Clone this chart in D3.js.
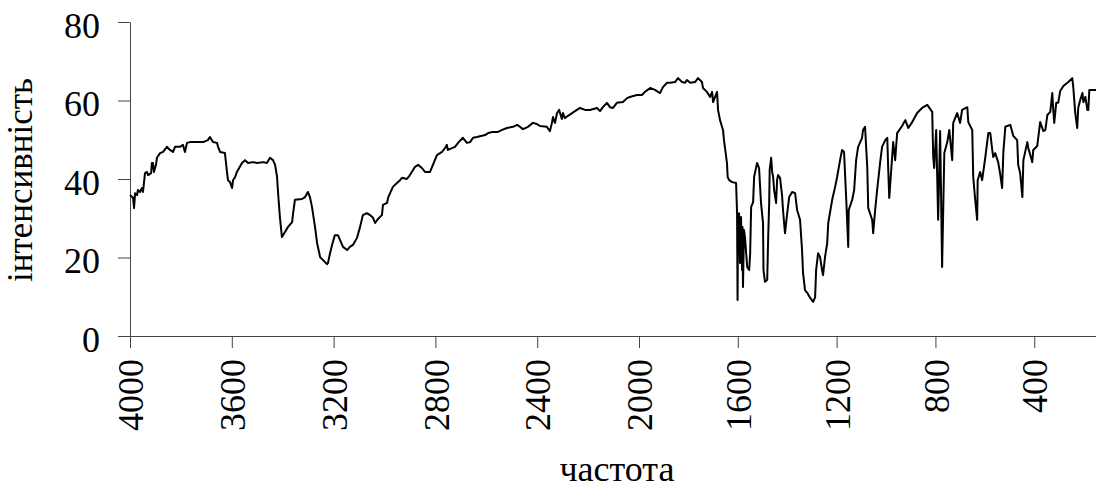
<!DOCTYPE html>
<html>
<head>
<meta charset="utf-8">
<script src="https://cdn.jsdelivr.net/npm/d3@7"></script>
<style>
  body { margin: 0; background: #fff; }
  svg { display: block; }
  text { font-family: "Liberation Serif", "Times New Roman", serif; fill: #000; }
</style>
</head>
<body>
<div id="chart"></div>
<script>
// wavenumber, cm-1
const wavenumber = [
  4000, 3988, 3984, 3980, 3972, 3969, 3961, 3953, 3949, 3941, 3933, 3929, 3917, 3914, 3910, 3906,
  3898, 3894, 3882, 3870, 3855, 3843, 3831, 3823, 3804, 3792, 3784, 3776, 3764, 3737, 3713, 3694,
  3686, 3674, 3658, 3654, 3646, 3627, 3619, 3615, 3607, 3599, 3595, 3587, 3580, 3560, 3548, 3536,
  3517, 3501, 3477, 3462, 3450, 3438, 3430, 3422, 3419, 3411, 3403, 3391, 3379, 3363, 3360, 3352,
  3324, 3312, 3301, 3293, 3285, 3273, 3265, 3253, 3226, 3222, 3214, 3206, 3195, 3183, 3175, 3163,
  3147, 3136, 3124, 3108, 3096, 3085, 3069, 3057, 3045, 3037, 3026, 3010,
  3006, 2990, 2986, 2978, 2967, 2959, 2939, 2931, 2912, 2900, 2880, 2868, 2853, 2841, 2821, 2813,
  2802, 2794, 2774, 2762, 2755, 2751, 2723, 2711, 2692, 2676, 2664, 2652, 2637, 2617, 2605, 2593,
  2574, 2554, 2538, 2519, 2495, 2479, 2468, 2456, 2436, 2417, 2401, 2389, 2362, 2350, 2342, 2338,
  2330, 2322, 2314, 2303, 2299, 2291, 2279, 2263, 2244, 2232, 2212, 2193, 2165, 2153, 2142, 2126,
  2114, 2102, 2087, 2063, 2047, 2036, 2008, 1988, 1976, 1955, 1935, 1923, 1915, 1903, 1887, 1874,
  1854, 1842, 1826, 1814, 1806, 1793, 1773, 1761, 1745, 1741, 1725, 1712, 1704, 1700, 1692, 1684,
  1680, 1672,
  1664, 1660, 1656, 1648, 1644, 1641, 1635, 1623, 1607, 1603, 1601, 1599, 1595, 1591, 1587, 1583,
  1581, 1579, 1575, 1571, 1562, 1554, 1550, 1546, 1538, 1534, 1522, 1514, 1506, 1498, 1496, 1490,
  1481, 1477, 1473, 1471, 1465, 1461, 1457, 1453, 1445, 1441, 1437, 1429, 1421, 1417, 1409, 1400,
  1392, 1380, 1368, 1360, 1348,
  1340, 1336, 1328, 1319, 1307, 1295, 1287, 1283, 1275, 1267, 1259, 1255, 1247, 1238, 1234, 1218,
  1206, 1198, 1186, 1178, 1170, 1161, 1153, 1151, 1137, 1129, 1121, 1113, 1097, 1093, 1085, 1076,
  1072, 1056, 1052, 1044, 1036, 1024, 1016, 1003, 995, 991, 987, 979, 971, 963, 955,
  935, 922, 910, 894, 874, 854, 833, 813, 809, 805, 797, 789, 781, 773, 764, 752,
  744, 732, 728, 712, 700, 692, 671, 667, 651, 647, 639, 631, 629, 619, 611, 598,
  586, 578, 570, 566, 558, 546, 538, 530, 525, 517, 497, 485, 469, 465, 457, 448,
  444, 428, 424, 408, 404, 388, 376, 363, 355, 347, 335, 327, 323, 319, 311, 303,
  295, 282, 262, 246, 242, 234, 226, 222, 214, 205, 201, 193, 185, 181, 177, 150
];

// intensity, %
const intensity = [
  35.9, 35.2, 32.6, 36.4, 35.9, 37.2, 36.7, 37.7, 36.7, 41.5, 41.8, 41.0, 41.5, 44.1, 44.1, 41.8,
  43.6, 45.4, 46.6, 46.9, 48.2, 47.4, 46.9, 48.2, 48.2, 48.7, 46.9, 49.2, 49.4, 49.4, 49.4, 49.9,
  50.7, 49.4, 49.2, 48.2, 46.9, 46.6, 41.8, 39.7, 39.2, 37.7, 39.7, 40.5, 41.8, 44.1, 44.8, 44.1,
  44.3, 44.1, 44.3, 44.1, 45.4, 44.8, 43.6, 40.5, 37.2, 30.3, 25.2, 26.5, 27.8, 29.0, 30.8, 34.7,
  34.9, 35.4, 36.7, 35.4, 32.9, 27.8, 23.7, 20.1, 18.3, 18.6, 21.1, 23.2, 25.7, 25.7, 24.5, 22.7,
  21.9, 22.7, 23.2, 25.0, 27.8, 30.8, 31.3, 30.8, 30.1, 28.8, 29.8, 30.8,
  33.4, 33.9, 35.2, 36.4, 38.0, 38.5, 39.7, 40.3, 40.0, 41.0, 43.1, 43.6, 42.8, 41.8, 41.8, 43.1,
  44.8, 46.1, 46.9, 47.9, 48.7, 47.4, 48.2, 49.2, 50.5, 49.2, 49.4, 50.5, 50.7, 51.0, 51.2, 51.7,
  52.0, 52.0, 52.5, 53.0, 53.3, 53.8, 53.3, 52.7, 53.3, 54.3, 54.0, 53.5, 53.3, 52.2, 54.3, 55.8,
  54.3, 56.8, 57.6, 55.3, 56.8, 55.5, 56.1, 56.8, 57.6, 58.1, 57.6, 57.6, 58.1, 57.3, 58.3, 59.4,
  58.3, 58.1, 59.4, 59.6, 60.6, 60.9, 61.4, 61.4, 62.2, 63.2, 62.7, 62.2, 61.9, 63.4, 64.5, 64.5,
  64.7, 65.7, 64.7, 64.5, 65.2, 64.5, 64.7, 65.7, 64.7, 63.2, 62.2, 60.9, 62.2, 59.6, 60.9, 62.2,
  57.6, 55.0,
  53.3, 52.5, 49.9, 46.1, 44.1, 40.5, 39.7, 39.2, 39.0, 31.3, 9.2, 30.3, 31.3, 18.6, 30.3, 16.8,
  27.8, 12.5, 27.0, 25.2, 17.6, 16.8, 21.1, 32.9, 34.1, 40.5, 44.1, 42.8, 33.9, 28.8, 16.8, 13.8,
  14.3, 25.2, 33.9, 42.3, 45.4, 41.8, 40.5, 37.2, 33.9, 39.7, 41.0, 40.3, 35.9, 32.1, 26.2, 31.3,
  35.4, 36.7, 36.4, 32.1, 29.6,
  21.9, 16.1, 11.7, 11.0, 9.7, 8.7, 9.9, 16.8, 21.1, 20.1, 16.8, 15.5, 20.1, 23.7, 28.8, 34.7,
  38.0, 40.5, 44.8, 47.4, 46.9, 34.7, 22.7, 32.1, 34.7, 37.2, 44.8, 48.2, 50.5, 52.5, 53.3, 43.1,
  32.6, 29.6, 26.2, 32.1, 37.2, 44.1, 48.2, 49.9, 50.5, 42.3, 35.2, 42.3, 49.4, 44.8, 51.7,
  53.5, 55.0, 53.0, 54.5, 56.8, 58.1, 58.9, 57.1, 45.6, 42.8, 52.5, 29.6, 52.2, 17.6, 46.6, 49.4,
  52.5, 44.8, 54.3, 56.8, 54.3, 57.6, 58.3, 54.5, 52.5, 40.5, 34.7, 29.6, 39.7, 41.8, 39.7, 45.6,
  51.7, 51.7, 47.4, 45.6, 46.6, 44.3, 41.3, 37.7, 46.9, 53.3, 53.8, 51.0, 49.9, 43.6, 41.5, 35.4,
  44.8, 49.4, 47.9, 44.3, 47.4, 48.4, 54.5, 52.2, 52.5, 56.3, 57.1, 61.9, 57.6, 54.3, 59.4, 59.4,
  62.4, 63.7, 64.7, 65.7, 63.4, 56.8, 53.0, 58.1, 60.1, 61.9, 59.6, 60.9, 57.6, 57.6, 62.7, 62.7
];

const xTicks = [4000, 3600, 3200, 2800, 2400, 2000, 1600, 1200, 800, 400];
const yTicks = [0, 20, 40, 60, 80];
const xTitle = 'частота';
const yTitle = 'інтенсивність';

const W = 1096, H = 490;
const margin = { top: 22, right: 0, bottom: 154, left: 130 };
const width = W - margin.left - margin.right;
const height = H - margin.top - margin.bottom;

const svg = d3.select('#chart')
  .append('svg')
  .attr('width', W)
  .attr('height', H);

const g = svg.append('g')
  .attr('transform', `translate(${margin.left},${margin.top})`);

// the point spacing changes at 2000, so the axis is stretched a bit there
const x = d3.scaleLinear()
  .domain([4000, 2000, 150])
  .range([0, 509, width]);

const y = d3.scaleLinear()
  .domain([0, 80])
  .range([height, 0]);

// Y axis
const yAxis = g.append('g')
  .call(d3.axisLeft(y).tickValues(yTicks).tickSize(12).tickSizeOuter(0).tickPadding(18));
yAxis.select('.domain').attr('stroke', '#444');
yAxis.selectAll('line').attr('stroke', '#444');
yAxis.selectAll('text')
  .style('font-size', '36px')
  .attr('dy', '0.42em');

// X axis
const xAxis = g.append('g')
  .attr('transform', `translate(0,${height})`)
  .call(d3.axisBottom(x).tickValues(xTicks).tickFormat(d3.format('d')).tickSize(12).tickSizeOuter(0));
xAxis.select('.domain').attr('stroke', '#444');
xAxis.selectAll('line').attr('stroke', '#444');
xAxis.selectAll('text')
  .style('font-size', '36px')
  .attr('text-anchor', 'end')
  .attr('transform', 'rotate(-90)')
  .attr('x', -23)
  .attr('y', 0)
  .attr('dy', '0.35em');

// Spectrum
const data = wavenumber.map((w, i) => ({ w, v: intensity[i] }));
g.append('path')
  .datum(data)
  .attr('fill', 'none')
  .attr('stroke', '#000')
  .attr('stroke-width', 2)
  .attr('stroke-linejoin', 'round')
  .attr('d', d3.line().x(d => x(d.w)).y(d => y(d.v)));

// Titles
svg.append('text')
  .attr('x', 617)
  .attr('y', 481)
  .attr('text-anchor', 'middle')
  .style('font-size', '36px')
  .text(xTitle);

svg.append('text')
  .attr('transform', 'translate(32,180) rotate(-90)')
  .attr('text-anchor', 'middle')
  .style('font-size', '35px')
  .text(yTitle);
</script>
</body>
</html>
